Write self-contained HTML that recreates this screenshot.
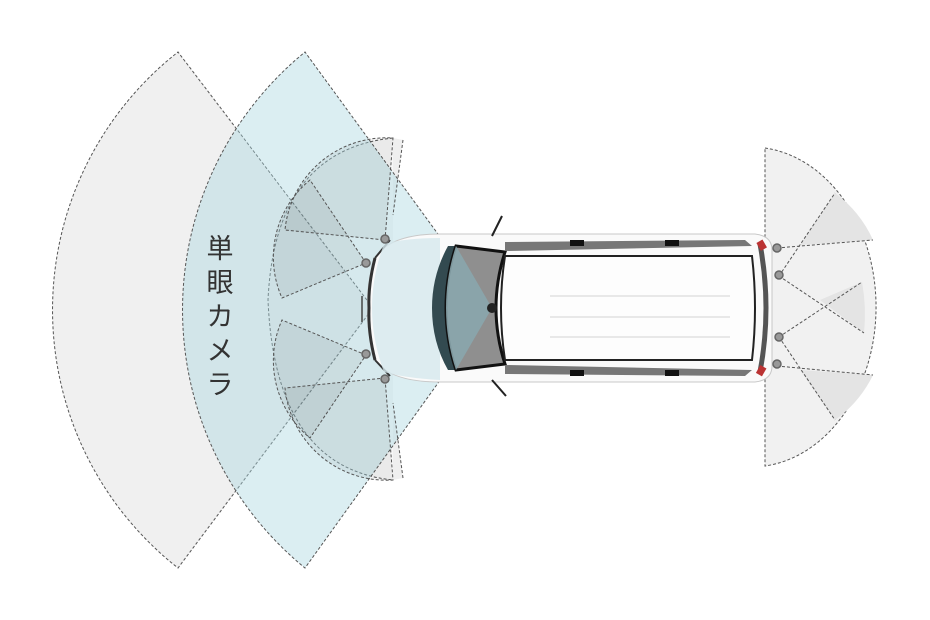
<!DOCTYPE html>
<html><head><meta charset="utf-8"><style>
html,body{margin:0;padding:0;background:#fff;}
svg{display:block}
</style></head><body>
<svg width="930" height="620" viewBox="0 0 930 620" xmlns="http://www.w3.org/2000/svg">
<g stroke="#555" stroke-width="1" stroke-dasharray="3,2" fill="none">
  <path d="M373,308 L178,52 A328,328 0 0 0 178,568 Z" fill="#f0f0f0"/>
  <path d="M393,138 L403,140 L393,215 Z" fill="#efefef" stroke="none"/>
  <path d="M393,480 L403,478 L393,403 Z" fill="#efefef" stroke="none"/>
  <path d="M393,138 Q275,150 268,300 Q275,468 393,480" fill="rgba(0,0,0,0.03)"/>
  <path d="M492,308 L305,52 A333,333 0 0 0 305,568 Z" fill="rgba(170,215,225,0.42)"/>
  <path d="M385,240 L393,138 A102,102 0 0 0 285,230 Z" fill="rgba(0,0,0,0.05)"/>
  <path d="M366,263 L310,180 A100,100 0 0 0 282,298 Z" fill="rgba(0,0,0,0.05)"/>
  <path d="M366,355 L282,320 A100,100 0 0 0 310,438 Z" fill="rgba(0,0,0,0.05)"/>
  <path d="M385,378 L285,388 A102,102 0 0 0 393,480 Z" fill="rgba(0,0,0,0.05)"/>
  <line x1="403" y1="140" x2="393" y2="215"/>
  <line x1="403" y1="478" x2="393" y2="403"/>
  <path d="M765,148 A125,160 0 0 1 765,466 Z" fill="#f1f1f1"/>
  <path d="M800,245 L835,193 A120,120 0 0 1 873,240 Z" fill="#e4e4e4" stroke="none"/>
  <path d="M800,370 L835,420 A120,120 0 0 0 873,375 Z" fill="#e4e4e4" stroke="none"/>
  <path d="M820,300 L862,282 A110,140 0 0 1 864,333 Z" fill="#e4e4e4" stroke="none"/>
  <line x1="777" y1="248" x2="873" y2="240"/>
  <line x1="779" y1="276" x2="835" y2="193"/>
  <line x1="779" y1="276" x2="864" y2="333"/>
  <line x1="779" y1="337" x2="862" y2="282"/>
  <line x1="779" y1="337" x2="835" y2="420"/>
  <line x1="777" y1="366" x2="873" y2="375"/>
</g>
<g>
  <path d="M440,234 L755,234 Q772,236 772,250 L772,366 Q772,380 755,382 L440,382 Q390,382 375,360 Q366,330 368,308 Q366,285 375,258 Q390,234 440,234 Z" fill="#fafafa" stroke="#c8c8c8" stroke-width="1"/>
  <path d="M375,258 Q368,285 369,308 Q368,333 375,360" fill="none" stroke="#333" stroke-width="3"/>
  <path d="M375,258 L390,240" stroke="#333" stroke-width="2"/>
  <path d="M375,360 L390,376" stroke="#333" stroke-width="2"/>
  <path d="M384,244 Q405,238 440,238 L440,380 Q405,378 384,372 Q372,340 372,308 Q372,276 384,244 Z" fill="#d6e9ee" opacity="0.8"/>
  <path d="M448,246 Q432,275 432,308 Q432,342 448,370 L460,370 Q452,340 452,308 Q452,276 460,246 Z" fill="#334a50"/>
  <path d="M456,246 L505,252 Q496,280 496,308 Q496,336 505,364 L456,370 Q446,340 446,308 Q446,276 456,246 Z" fill="#8f8f8f" stroke="#111" stroke-width="3"/>
  <path d="M456,246 L492,308 L456,370 Q446,340 446,308 Q446,276 456,246 Z" fill="#8aa6ad" opacity="0.9"/>
  <circle cx="492" cy="308" r="5" fill="#222"/>
  <path d="M505,256 L752,256 Q758,308 752,360 L505,360 Q497,308 505,256 Z" fill="#fdfdfd" stroke="#222" stroke-width="2"/>
  <g stroke="#e2e2e2" stroke-width="1.5"><line x1="550" y1="296" x2="730" y2="296"/><line x1="550" y1="317" x2="730" y2="317"/><line x1="550" y1="337" x2="730" y2="337"/></g>
  <path d="M505,242 L745,240 L752,246 L505,251 Z" fill="#777"/>
  <path d="M505,374 L745,376 L752,370 L505,365 Z" fill="#777"/>
  <rect x="570" y="240" width="14" height="6" fill="#111"/><rect x="665" y="240" width="14" height="6" fill="#111"/>
  <rect x="570" y="370" width="14" height="6" fill="#111"/><rect x="665" y="370" width="14" height="6" fill="#111"/>
  <path d="M760,244 Q772,308 760,372" fill="none" stroke="#555" stroke-width="5"/>
  <rect x="758" y="241" width="7" height="9" fill="#b33" transform="rotate(-30 761 245)"/>
  <rect x="758" y="366" width="7" height="9" fill="#b33" transform="rotate(30 761 370)"/>
  <line x1="492" y1="236" x2="502" y2="216" stroke="#222" stroke-width="2"/>
  <line x1="492" y1="380" x2="506" y2="396" stroke="#222" stroke-width="2"/>
  <line x1="362" y1="296" x2="362" y2="322" stroke="#444" stroke-width="1.5"/>
</g>
<g fill="#999" stroke="#666" stroke-width="1.5">
  <circle cx="385" cy="239" r="4"/><circle cx="366" cy="263" r="4"/>
  <circle cx="366" cy="354" r="4"/><circle cx="385" cy="379" r="4"/>
  <circle cx="777" cy="248" r="4"/><circle cx="779" cy="275" r="4"/>
  <circle cx="779" cy="337" r="4"/><circle cx="777" cy="364" r="4"/>
</g>
<text x="220" y="258" font-family="'Liberation Sans','Noto Sans CJK JP',sans-serif" font-size="27" fill="#333" text-anchor="middle">単</text>
<text x="220" y="292" font-family="'Liberation Sans','Noto Sans CJK JP',sans-serif" font-size="27" fill="#333" text-anchor="middle">眼</text>
<text x="220" y="326" font-family="'Liberation Sans','Noto Sans CJK JP',sans-serif" font-size="27" fill="#333" text-anchor="middle">カ</text>
<text x="220" y="360" font-family="'Liberation Sans','Noto Sans CJK JP',sans-serif" font-size="27" fill="#333" text-anchor="middle">メ</text>
<text x="220" y="394" font-family="'Liberation Sans','Noto Sans CJK JP',sans-serif" font-size="27" fill="#333" text-anchor="middle">ラ</text>
</svg>
</body></html>
